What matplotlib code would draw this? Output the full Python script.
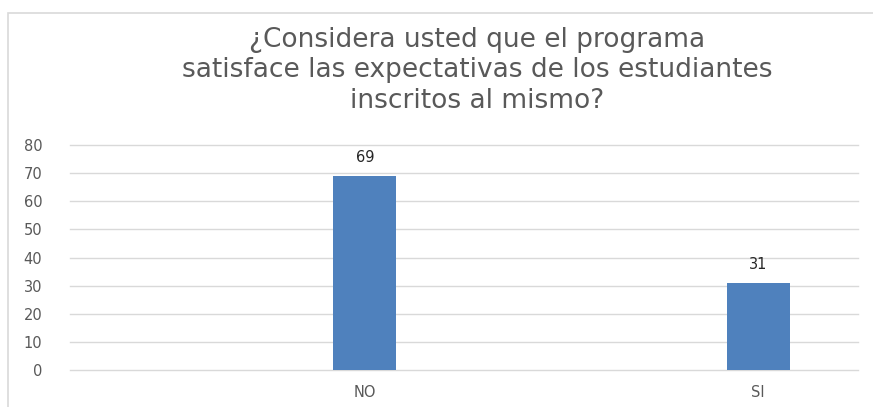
import matplotlib
matplotlib.use("Agg")
import matplotlib.pyplot as plt
from matplotlib.patches import Rectangle

categories = ["NO", "SI"]
values = [69, 31]
yticks = [0, 10, 20, 30, 40, 50, 60, 70, 80]
title = "¿Considera usted que el programa\nsatisface las expectativas de los estudiantes\ninscritos al mismo?"

W, H = 873, 407
fig = plt.figure(figsize=(W / 100, H / 100), dpi=100)
plt.rcParams['font.family'] = ['DejaVu Sans']

# chart border
fig.patches.append(Rectangle((8 / W, -0.1), (W + 20) / W, (H - 13) / H + 0.1,
                             transform=fig.transFigure, fill=False,
                             edgecolor="#d9d9d9", linewidth=1.2))

left, right = 70 / W, 858 / W
bottom, top = 1 - 370 / H, 1 - 145 / H
ax = fig.add_axes([left, bottom, right - left, top - bottom])

x = list(range(len(categories)))
ax.bar(x, values, width=0.16, color="#4f81bd", zorder=3)
ax.set_xlim(-0.75, 1.254)
ax.set_ylim(0, 80)
ax.set_yticks(yticks)
ax.set_xticks(x)
ax.set_xticklabels(categories)
ax.yaxis.grid(True, color="#d9d9d9", linewidth=1, zorder=0)
for gl in ax.get_ygridlines():
    gl.set_clip_on(False)
for s in ax.spines.values():
    s.set_visible(False)
ax.tick_params(axis="both", length=0, colors="#595959", labelsize=10.5)
ax.tick_params(axis="y", pad=20)
ax.tick_params(axis="x", pad=11)

for xi, v in zip(x, values):
    ax.annotate(str(v), (xi, v), xytext=(0, 8), textcoords="offset points",
                ha="center", va="bottom", fontsize=10.5, color="#262626")

fig.text(477 / W, 1 - 27 / H, title, ha="center", va="top", fontsize=19,
         color="#595959", linespacing=1.22)

fig.savefig("out.png", dpi=100)
